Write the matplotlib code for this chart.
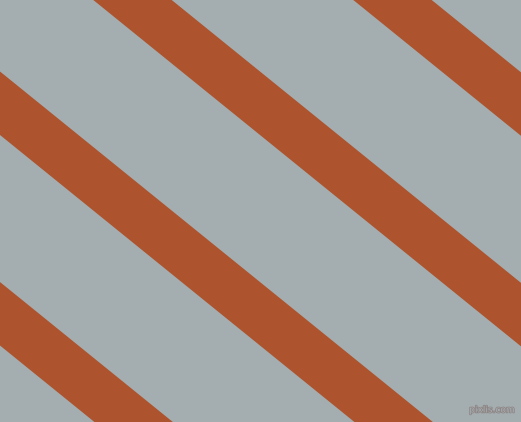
import numpy as np
import matplotlib
matplotlib.use("Agg")
import matplotlib.pyplot as plt
import matplotlib.patheffects as pe

# Pattern data (pixel units of a 521x422 canvas)
canvas_w, canvas_h = 521, 422
stripe_angle_deg = 39.0                           # stripe slope angle below horizontal
stripe_starts = [-426.7, -166.7, 93.3, 353.3]     # x of lower-left edge at top row
stripe_width = 78.4                               # horizontal width of each stripe
background_color = "#A4AEB1"
stripe_color = "#AD532D"
watermark = "pixlis.com"

fig = plt.figure(figsize=(canvas_w / 100, canvas_h / 100), dpi=100)
ax = fig.add_axes([0, 0, 1, 1])
ax.set_xlim(0, canvas_w)
ax.set_ylim(canvas_h, 0)
ax.axis("off")
ax.add_patch(plt.Rectangle((0, 0), canvas_w, canvas_h, color=background_color, zorder=0))

k = 1.0 / np.tan(np.radians(stripe_angle_deg))
for c in stripe_starts:
    xs = [c, c + stripe_width, c + stripe_width + canvas_h * k, c + canvas_h * k]
    ys = [0, 0, canvas_h, canvas_h]
    ax.fill(xs, ys, color=stripe_color, lw=0, zorder=1)

ax.text(515, 410, watermark, ha="right", va="center", fontsize=6.5,
        color="#A4AEB1", zorder=3,
        path_effects=[pe.withStroke(linewidth=1.2, foreground="#8f8585")])

fig.savefig("out.png", dpi=100)
